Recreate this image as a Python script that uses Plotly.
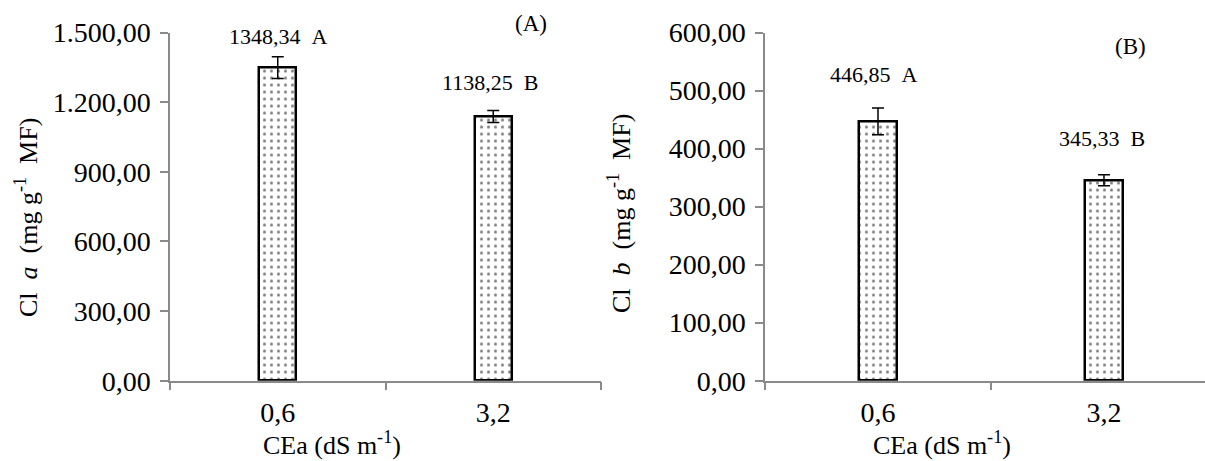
import plotly.graph_objects as go

# ---- data ----
categories = ["0,6", "3,2"]
cla_values = [1348.34, 1138.25]
cla_errors = [47, 26]
cla_letters = ["A", "B"]
clb_values = [446.85, 345.33]
clb_errors = [23, 9.5]
clb_letters = ["A", "B"]

W, H = 1205, 461
FONT = "Liberation Serif, Times New Roman, serif"
AXC = "#8a8a8a"

def px_x(p):
    return p / W

def px_y(p):
    return 1 - p / H

fig = go.Figure()

bar_style = dict(
    marker=dict(color="white", line=dict(color="black", width=2.5),
                pattern=dict(shape=".", fgcolor="black", bgcolor="white", size=7, solidity=0.15)),
    showlegend=False,
)

fig.add_trace(go.Bar(x=categories, y=cla_values, width=0.172,
                     error_y=dict(type="data", array=cla_errors, color="black", thickness=1.5, width=6),
                     xaxis="x", yaxis="y", **bar_style))
fig.add_trace(go.Bar(x=categories, y=clb_values, width=0.168,
                     error_y=dict(type="data", array=clb_errors, color="black", thickness=1.5, width=6),
                     xaxis="x2", yaxis="y2", **bar_style))

ydom = [px_y(380.7), px_y(32.5)]
xaxis_common = dict(type="category", showline=True, linecolor=AXC, linewidth=1.5,
                    ticks="outside", tickson="boundaries", ticklen=8, tickcolor=AXC, tickwidth=1.5,
                    showgrid=False, zeroline=False, automargin=False, ticklabelstandoff=6,
                    tickfont=dict(family=FONT, size=28, color="black"))
yaxis_common = dict(showline=True, linecolor=AXC, linewidth=1.5, ticks="outside", ticklen=8,
                    tickcolor=AXC, tickwidth=1.5, showgrid=False, zeroline=False, automargin=False,
                    ticklabelstandoff=4,
                    tickformat=",.2f", tickfont=dict(family=FONT, size=28, color="black"))

fig.update_layout(
    width=W, height=H, autosize=False,
    margin=dict(l=0, r=0, t=0, b=0, pad=0),
    paper_bgcolor="white", plot_bgcolor="white",
    separators=",.",
    bargap=0,
    showlegend=False,
    xaxis=dict(domain=[px_x(170), px_x(601)], range=[-0.5, 1.5], anchor="y", **xaxis_common),
    yaxis=dict(domain=ydom, range=[0, 1500], dtick=300, anchor="x", **yaxis_common),
    xaxis2=dict(domain=[px_x(765), 1], range=[-0.5, 1.447], anchor="y2", **xaxis_common),
    yaxis2=dict(domain=ydom, range=[0, 600], dtick=100, anchor="x2", **yaxis_common),
)

def fmt(v):
    return f"{v:.2f}".replace(".", ",")

anns = []
label_shift_a = [31, 34]
label_shift_b = [47, 42]
label_xshift_a = [1, -3]
label_xshift_b = [-4, -2]
for cat, v, l, s, xs in zip(categories, cla_values, cla_letters, label_shift_a, label_xshift_a):
    anns.append(dict(x=cat, y=v, xref="x", yref="y", text=f"{fmt(v)}\u00a0\u00a0{l}", showarrow=False,
                     xanchor="center", yanchor="middle", yshift=s, xshift=xs,
                     font=dict(family=FONT, size=22, color="black")))
for cat, v, l, s, xs in zip(categories, clb_values, clb_letters, label_shift_b, label_xshift_b):
    anns.append(dict(x=cat, y=v, xref="x2", yref="y2", text=f"{fmt(v)}\u00a0\u00a0{l}", showarrow=False,
                     xanchor="center", yanchor="middle", yshift=s, xshift=xs,
                     font=dict(family=FONT, size=22, color="black")))

title_font = dict(family=FONT, size=26, color="black")
sp = "\u00a0\u00a0"
ytitle_a = f"Cl{sp}<i>a</i>{sp}(mg g<sup>-1</sup>{sp}MF)"
ytitle_b = f"Cl{sp}<i>b</i>{sp}(mg g<sup>-1</sup>{sp}MF)"
xtitle = "CEa (dS m<sup>-1</sup>)"
common_ann = dict(xref="paper", yref="paper", showarrow=False, xanchor="center", yanchor="middle")
anns += [
    dict(x=px_x(531), y=px_y(24), text="(A)", font=dict(family=FONT, size=23, color="black"), **common_ann),
    dict(x=px_x(1130), y=px_y(47), text="(B)", font=dict(family=FONT, size=23, color="black"), **common_ann),
    dict(x=px_x(26), y=px_y(218), text=ytitle_a, textangle=-90, font=title_font, **common_ann),
    dict(x=px_x(619), y=px_y(213), text=ytitle_b, textangle=-90, font=title_font, **common_ann),
    dict(x=px_x(332), y=px_y(443), text=xtitle, font=title_font, **common_ann),
    dict(x=px_x(942), y=px_y(443), text=xtitle, font=title_font, **common_ann),
]
fig.update_layout(annotations=anns)

fig.write_html("out.html", config={"displayModeBar": False},
               post_script="document.body.style.margin='0';document.body.style.overflow='hidden';")
